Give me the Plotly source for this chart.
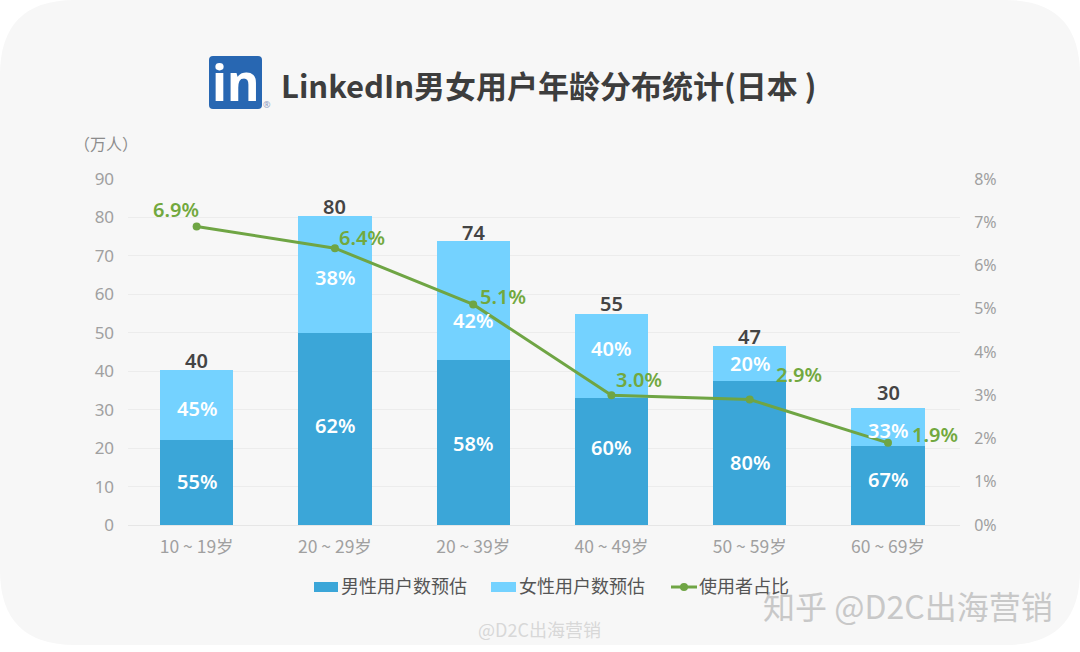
#!/usr/bin/env python
"""LinkedIn user age distribution in Japan: stacked bars with a share line."""

import plotly.graph_objects as go

WIDTH = 1080
HEIGHT = 652

age_groups = ["10 ~ 19岁", "20 ~ 29岁", "20 ~ 39岁", "40 ~ 49岁", "50 ~ 59岁", "60 ~ 69岁"]
male_users = [22, 50, 43, 33, 37.5, 20.5]
female_users = [18.3, 30.4, 31, 22, 9.1, 9.9]
totals = [40, 80, 74, 55, 47, 30]
male_pct = ["55%", "62%", "58%", "60%", "80%", "67%"]
female_pct = ["45%", "38%", "42%", "40%", "20%", "33%"]
user_share = [6.9, 6.4, 5.1, 3.0, 2.9, 1.9]
series_names = ["男性用户数预估", "女性用户数预估", "使用者占比"]

# label offsets in pixels, the source does not centre its labels exactly
share_label_shift = [(-21, 17), (27, 11), (30, 8), (28, 16), (49, 25), (47, 8)]
male_label_shift = [1, 3, -1, 14, -10, 6]
female_label_shift = [-3, -3, -20, 7, 0, -3]
total_label_shift = [10, 9, 8, 10, 9, 16]

MALE_COLOR = "#3ba6d8"
FEMALE_COLOR = "#74d2ff"
LINE_COLOR = "#6fa544"
TICK_COLOR = "#a0a0a0"
CJK = "Noto Sans CJK SC"
BAR_LABEL_FONT = dict(family="Noto Sans", size=20, color="white", weight=600)


def px_x(x):
    return x / WIDTH


def px_y(y):
    return 1 - y / HEIGHT


def rounded_rect(x0, y0, x1, y1, r):
    """SVG path of a rounded rectangle, pixel input and paper output."""
    def p(x, y):
        return f"{px_x(x)},{px_y(y)}"

    return (
        f"M{p(x0 + r, y0)} L{p(x1 - r, y0)} Q{p(x1, y0)} {p(x1, y0 + r)} "
        f"L{p(x1, y1 - r)} Q{p(x1, y1)} {p(x1 - r, y1)} "
        f"L{p(x0 + r, y1)} Q{p(x0, y1)} {p(x0, y1 - r)} "
        f"L{p(x0, y0 + r)} Q{p(x0, y0)} {p(x0 + r, y0)} Z"
    )


def page_text(text, x, y, size, color, anchor="center", family=CJK, weight=400):
    return dict(
        text=text, x=px_x(x), y=px_y(y), xref="paper", yref="paper",
        xanchor=anchor, yanchor="middle", showarrow=False,
        font=dict(family=family, size=size, color=color, weight=weight),
    )


def page_rect(x0, y0, x1, y1, color):
    return dict(
        type="rect", x0=px_x(x0), x1=px_x(x1), y0=px_y(y0), y1=px_y(y1),
        xref="paper", yref="paper", fillcolor=color, line_width=0,
    )


fig = go.Figure()

fig.add_trace(go.Bar(
    x=age_groups, y=male_users, name=series_names[0],
    marker=dict(color=MALE_COLOR, line_width=0), width=0.53,
))
fig.add_trace(go.Bar(
    x=age_groups, y=female_users, name=series_names[1],
    marker=dict(color=FEMALE_COLOR, line_width=0), width=0.53,
))

fig.add_trace(go.Scatter(
    x=age_groups, y=user_share, name=series_names[2], yaxis="y2", mode="lines+markers",
    line=dict(color=LINE_COLOR, width=3), marker=dict(color=LINE_COLOR, size=8),
    cliponaxis=False,
))

annotations = []
for i, group in enumerate(age_groups):
    annotations.append(dict(
        text=male_pct[i], x=group, y=male_users[i] / 2, xref="x", yref="y",
        yshift=male_label_shift[i], showarrow=False, font=BAR_LABEL_FONT,
    ))
    annotations.append(dict(
        text=female_pct[i], x=group, y=male_users[i] + female_users[i] / 2, xref="x", yref="y",
        yshift=female_label_shift[i], showarrow=False, font=BAR_LABEL_FONT,
    ))
    annotations.append(dict(
        text=str(totals[i]), x=group, y=male_users[i] + female_users[i], xref="x", yref="y",
        yshift=total_label_shift[i], showarrow=False,
        font=dict(family="Noto Sans", size=20, color="#444444", weight=600),
    ))
    dx, dy = share_label_shift[i]
    annotations.append(dict(
        text=f"{user_share[i]:.1f}%", x=group, y=user_share[i], xref="x", yref="y2",
        xshift=dx, yshift=dy, showarrow=False,
        font=dict(family="Noto Sans", size=20, color="#72a83e", weight=600),
    ))

annotations += [
    page_text("LinkedIn男女用户年龄分布统计(日本 )", 279, 84, 31, "#3d3d3d", "left", weight=700),
    page_text("in", 235, 82, 50, "white", family="Noto Sans", weight=700),
    page_text("®", 267, 105, 9, "#8f9bc0", family="Noto Sans"),
    page_text("（万人）", 106, 143, 16, "#8c8c8c"),
    page_text("知乎 @D2C出海营销", 908, 605, 32, "#c8c8c8"),
    page_text("@D2C出海营销", 539, 629, 18, "#d8d8d8"),
    # legend, drawn by hand for its flat swatches
    page_text(series_names[0], 339, 585, 18, "#555555", "left"),
    page_text(series_names[1], 517, 585, 18, "#555555", "left"),
    page_text(series_names[2], 697, 585, 18, "#555555", "left"),
]

fig.update_layout(
    width=WIDTH,
    height=HEIGHT,
    barmode="stack",
    paper_bgcolor="white",
    plot_bgcolor="rgba(0,0,0,0)",
    margin=dict(l=0, r=0, t=0, b=0, autoexpand=False),
    font=dict(family=CJK, color=TICK_COLOR),
    showlegend=False,
    xaxis=dict(
        domain=[px_x(127.5), px_x(960)], showgrid=False, ticks="outside", ticklen=6,
        tickcolor="rgba(0,0,0,0)", showline=True, linecolor="#e6e6e6",
        tickfont=dict(family=CJK, size=17.5, color=TICK_COLOR),
    ),
    yaxis=dict(
        domain=[px_y(525), px_y(179)], range=[0, 90], dtick=10, gridcolor="#ececec",
        zeroline=False, ticks="outside", ticklen=9, tickcolor="rgba(0,0,0,0)",
        tickfont=dict(family="Noto Sans", size=17, color=TICK_COLOR),
    ),
    yaxis2=dict(
        overlaying="y", side="right", range=[0, 8], dtick=1, ticksuffix="%",
        showgrid=False, zeroline=False, ticks="outside", ticklen=10,
        tickcolor="rgba(0,0,0,0)",
        tickfont=dict(family="Noto Sans", size=16, color=TICK_COLOR),
    ),
    shapes=[
        dict(type="path", path=rounded_rect(0, 0, 1080, 645, 75), xref="paper", yref="paper",
             fillcolor="#f7f7f7", line_width=0, layer="below"),
        dict(type="path", path=rounded_rect(209, 56, 262, 109, 4), xref="paper", yref="paper",
             fillcolor="#2867b2", line_width=0, layer="below"),
        page_rect(314, 582, 338, 592, MALE_COLOR),
        page_rect(491, 582, 516, 592, FEMALE_COLOR),
        dict(type="line", x0=px_x(671), x1=px_x(697), y0=px_y(587), y1=px_y(587),
             xref="paper", yref="paper", line=dict(color=LINE_COLOR, width=3)),
        dict(type="circle", x0=px_x(680), x1=px_x(688), y0=px_y(583), y1=px_y(591),
             xref="paper", yref="paper", fillcolor=LINE_COLOR, line_width=0),
    ],
    annotations=annotations,
)

fig.write_html(
    "out.html",
    config={"displayModeBar": False},
    post_script="document.body.style.margin = '0';",
)
